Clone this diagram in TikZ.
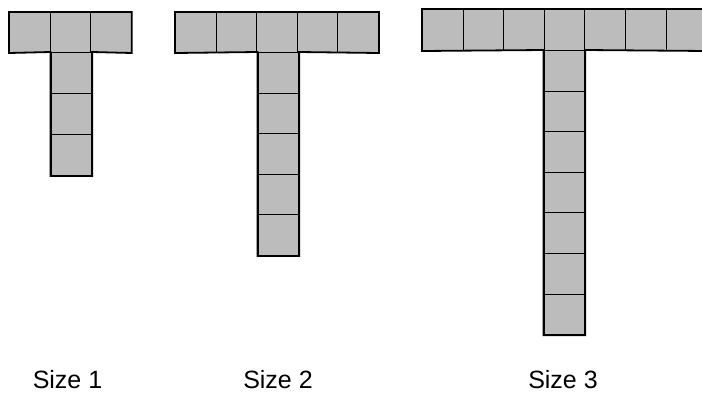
\documentclass[tikz,border=0pt]{standalone}
\usepackage{fontspec}
\setmainfont{Liberation Sans}
\definecolor{cellgray}{RGB}{188,188,188}
\begin{document}
\begin{tikzpicture}[x=1pt,y=-1pt,
  cell/.style={draw=black, line width=1pt, fill=cellgray, minimum width=40.6pt, minimum height=40.6pt, inner sep=0pt, anchor=north west},
  outline/.style={draw=black, line width=1.8pt, line join=miter},
  lbl/.style={font=\fontsize{25}{28}\selectfont, inner sep=0pt, anchor=base}]
\clip (0,0) rectangle (702,392);
\fill[white] (0,0) rectangle (702,392);
% Size 1
\foreach \k in {0,1,2} {
  \node[cell, minimum height=40pt] (a-t\k) at ({9+40.6*\k},12) {};
}
\foreach \k in {0,1,2} {
  \node[cell, minimum height=41pt] (a-s\k) at (50.5,{52+41*\k}) {};
}
\draw[outline] (a-t0.north west) -- (a-t2.north east) -- (a-t2.south east) -- (a-s0.north east) -- (a-s2.south east) -- (a-s2.south west) -- (a-s0.north west) -- (a-t0.south west) -- cycle;
% Size 2
\foreach \k in {0,...,4} {
  \node[cell, minimum height=40pt] (b-t\k) at ({175+40.6*\k},12) {};
}
\foreach \k in {0,...,4} {
  \node[cell] (b-s\k) at (257.5,{52+40.6*\k}) {};
}
\draw[outline] (b-t0.north west) -- (b-t4.north east) -- (b-t4.south east) -- (b-s0.north east) -- (b-s4.south east) -- (b-s4.south west) -- (b-s0.north west) -- (b-t0.south west) -- cycle;
% Size 3
\foreach \k in {0,...,6} {
  \node[cell, minimum height=41pt] (c-t\k) at ({422+40.6*\k},9) {};
}
\foreach \k in {0,...,6} {
  \node[cell] (c-s\k) at (543.5,{50+40.6*\k}) {};
}
\draw[outline] (c-t0.north west) -- (c-t6.north east) -- (c-t6.south east) -- (c-s0.north east) -- (c-s6.south east) -- (c-s6.south west) -- (c-s0.north west) -- (c-t0.south west) -- cycle;
\node[lbl] (l1) at (67.5,388) {Size 1};
\node[lbl] (l2) at (278,388) {Size 2};
\node[lbl] (l3) at (563,388) {Size 3};
\end{tikzpicture}
\end{document}
